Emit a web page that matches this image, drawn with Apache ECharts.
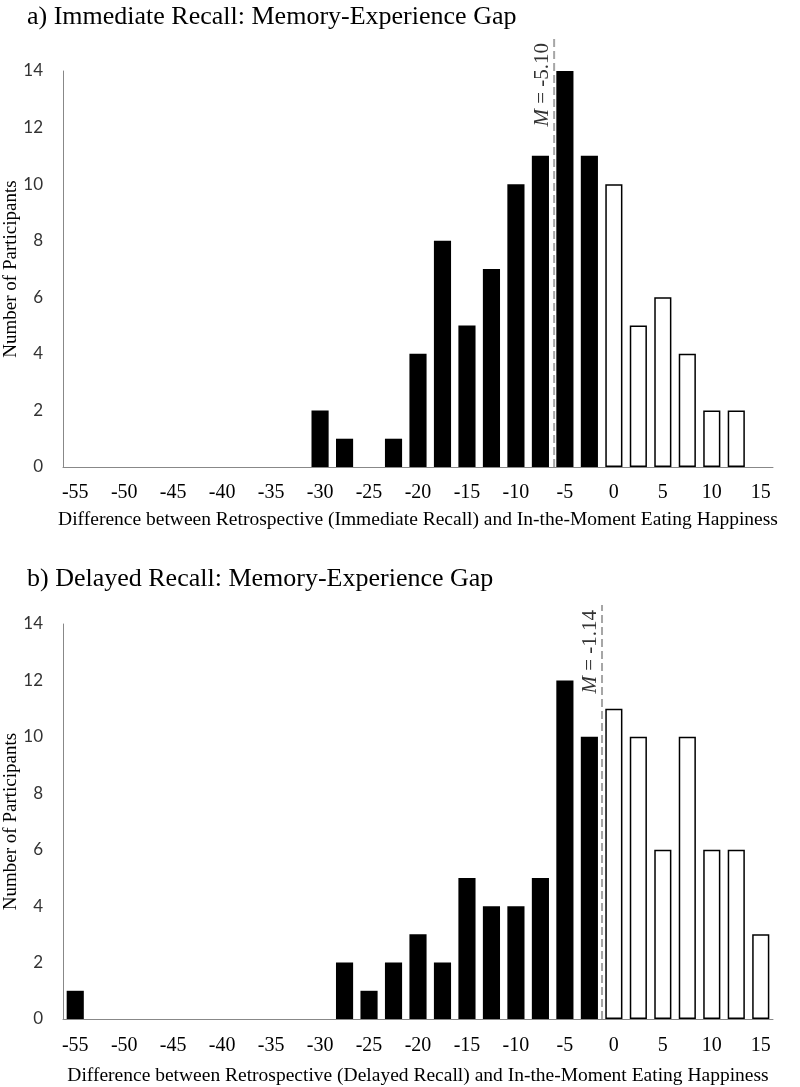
<!DOCTYPE html>
<html><head><meta charset="utf-8">
<script src="https://cdn.jsdelivr.net/npm/echarts@6/dist/echarts.min.js"></script>
<style>html,body{margin:0;padding:0;background:#fff}#c{width:800px;height:1087px}</style>
</head><body><div id="c"></div>
<script>
const categories = ['-55','-52.5','-50','-47.5','-45','-42.5','-40','-37.5','-35','-32.5','-30','-27.5','-25','-22.5','-20','-17.5','-15','-12.5','-10','-7.5','-5','-2.5','0','2.5','5','7.5','10','12.5','15'];
const immediateCounts = [0,0,0,0,0,0,0,0,0,0,2,1,0,1,4,8,5,7,10,11,14,11,10,5,6,4,2,2,0];
const delayedCounts   = [1,0,0,0,0,0,0,0,0,0,0,2,1,2,3,2,5,4,4,5,12,10,11,10,6,10,6,6,3];
const yTicks = [0,2,4,6,8,10,12,14];
const titleA = 'a) Immediate Recall: Memory-Experience Gap';
const titleB = 'b) Delayed Recall: Memory-Experience Gap';
const xNameA = 'Difference between Retrospective (Immediate Recall) and In-the-Moment Eating Happiness';
const xNameB = 'Difference between Retrospective (Delayed Recall) and In-the-Moment Eating Happiness';
const yName = 'Number of Participants';
const meanA = {label: '-5.10', pos: -6.1};
const meanB = {label: '-1.14', pos: -1.21};

const serif = 'Liberation Serif';
const chart = echarts.init(document.getElementById('c'));

function barData(counts) {
  return counts.map((v, i) => {
    const neg = parseFloat(categories[i]) < 0;
    return {value: v, itemStyle: {color: neg ? '#000' : '#fff', borderColor: '#000', borderWidth: (neg || v === 0) ? 0 : 1.5}};
  });
}
function catAxis(gridIndex, name, gap, margin) {
  return {
    type: 'category', gridIndex, data: categories, boundaryGap: true,
    axisLine: {lineStyle: {color: '#888', width: 1}}, axisTick: {show: false},
    axisLabel: {interval: 1, color: '#000', fontFamily: serif, fontSize: 20, margin},
    name, nameLocation: 'middle', nameGap: gap, nameMoveOverlap: false,
    nameTextStyle: {color: '#000', fontFamily: serif, fontSize: 19.5}
  };
}
function valAxis(gridIndex) {
  return {
    type: 'value', gridIndex, min: yTicks[0], max: yTicks[yTicks.length - 1], interval: 2,
    splitLine: {show: false},
    axisLine: {show: true, lineStyle: {color: '#888', width: 1}}, axisTick: {show: false},
    axisLabel: {color: '#333', fontFamily: 'Lato', fontSize: 17, margin: 20},
    name: yName, nameLocation: 'middle', nameGap: 42, nameMoveOverlap: false,
    nameTextStyle: {color: '#000', fontFamily: serif, fontSize: 19}
  };
}
function meanSeries(idx, m) {
  return {
    type: 'line', xAxisIndex: idx, yAxisIndex: idx, silent: true,
    symbol: 'circle', symbolSize: 0,
    lineStyle: {color: '#a6a6a6', width: 2, type: [8, 4]},
    data: [[m.pos, 0], {value: [m.pos, 1], label: {
      show: true, position: 'left', distance: 12, rotate: 90, offset: [-5, 0],
      formatter: '{i|M} = ' + m.label,
      color: '#333', fontFamily: serif, fontSize: 21,
      rich: {i: {fontStyle: 'italic', fontFamily: serif, fontSize: 21, color: '#333'}}
    }}]
  };
}
const hiddenX = (g) => ({type: 'value', gridIndex: g, min: -56.25, max: 16.25, show: false});
const hiddenY = (g) => ({type: 'value', gridIndex: g, min: 0, max: 1, show: false});
const gridBase = {left: 63, right: 27, containLabel: false, outerBoundsMode: 'none'};

chart.setOption({
  animation: false,
  title: [
    {text: titleA, left: 22, top: -1, textStyle: {fontFamily: serif, fontSize: 26, fontWeight: 'normal', color: '#000'}},
    {text: titleB, left: 22, top: 561, textStyle: {fontFamily: serif, fontSize: 26, fontWeight: 'normal', color: '#000'}}
  ],
  grid: [
    Object.assign({top: 71, bottom: 620}, gridBase),
    Object.assign({top: 624, bottom: 68}, gridBase),
    Object.assign({top: 38, bottom: 620}, gridBase),
    Object.assign({top: 605, bottom: 68}, gridBase)
  ],
  xAxis: [catAxis(0, xNameA, 43, 16), catAxis(1, xNameB, 47, 17), hiddenX(2), hiddenX(3)],
  yAxis: [valAxis(0), valAxis(1), hiddenY(2), hiddenY(3)],
  series: [
    {type: 'bar', xAxisIndex: 0, yAxisIndex: 0, barWidth: '70%', data: barData(immediateCounts)},
    {type: 'bar', xAxisIndex: 1, yAxisIndex: 1, barWidth: '70%', data: barData(delayedCounts)},
    meanSeries(2, meanA),
    meanSeries(3, meanB)
  ]
});
</script></body></html>
